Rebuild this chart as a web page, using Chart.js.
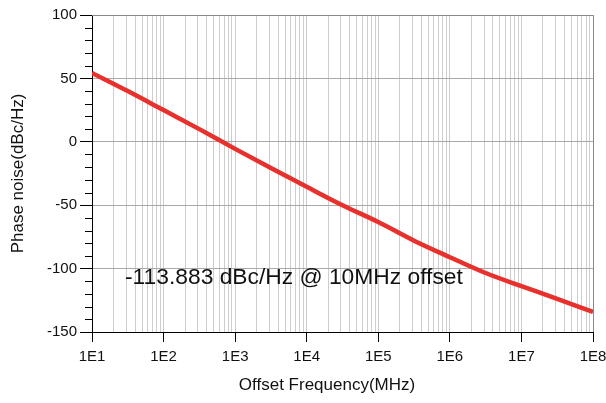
<!DOCTYPE html>
<html>
<head>
<meta charset="utf-8">
<script src="https://cdn.jsdelivr.net/npm/chart.js@4.4.1/dist/chart.umd.min.js"></script>
<style>
  html, body { margin: 0; padding: 0; background: #fff; }
  #wrap { width: 606px; height: 403px; }
</style>
</head>
<body>
<div id="wrap"><canvas id="chart1" width="606" height="403"></canvas></div>
<script>
// offset frequency points (decades and half decades)
var freqs = [1e1, 3.16e1, 1e2, 3.16e2, 1e3, 3.16e3, 1e4, 3.16e4, 1e5, 3.16e5, 1e6, 3.16e6, 1e7, 3.16e7, 1e8];
// phase noise, dBc/Hz
var noise = [54.3, 40, 25, 10, -5.6, -20.7, -35.5, -50, -63.3, -78, -91, -103.5, -113.883, -123.8, -134.2];
var yMajor = [-150, -100, -50, 0, 50, 100];
var noteText = '-113.883 dBc/Hz @ 10MHz offset';

var FONT = '"Liberation Sans", Arial, sans-serif';

// extra drawing: frame, minor y ticks, axis titles and the note
const extras = {
  id: 'extras',
  afterDraw(chart) {
    const ctx = chart.ctx;
    const a = chart.chartArea;
    const y = chart.scales.y;
    const x = chart.scales.x;
    const right = Math.round(x.getPixelForValue(1e8)) + 0.5;
    ctx.save();
    // top / right frame
    ctx.strokeStyle = '#8a8a8a';
    ctx.lineWidth = 1;
    ctx.beginPath();
    ctx.moveTo(a.left, a.top + 0.5);
    ctx.lineTo(right, a.top + 0.5);
    ctx.lineTo(right, a.bottom);
    ctx.stroke();
    // short ticks every 10 on y
    ctx.strokeStyle = '#000';
    ctx.beginPath();
    for (var v = -150; v <= 100; v += 10) {
      if (yMajor.indexOf(v) >= 0) continue;
      var py = Math.round(y.getPixelForValue(v)) + 0.5;
      ctx.moveTo(a.left - 7, py);
      ctx.lineTo(a.left, py);
    }
    ctx.stroke();
    // axis titles
    ctx.fillStyle = '#111';
    ctx.font = '17px ' + FONT;
    ctx.textAlign = 'center';
    ctx.textBaseline = 'middle';
    ctx.fillText('Offset Frequency(MHz)', 327, 385);
    ctx.save();
    ctx.translate(18, (a.top + a.bottom) / 2);
    ctx.rotate(-Math.PI / 2);
    ctx.fillText('Phase noise(dBc/Hz)', 0, 0);
    ctx.restore();
    // note
    ctx.font = '22.8px ' + FONT;
    ctx.textAlign = 'left';
    ctx.textBaseline = 'alphabetic';
    ctx.fillText(noteText, a.left + 33, a.top + 269);
    ctx.restore();
  }
};

function isDecade(v) {
  var e = Math.log10(v);
  return Math.abs(e - Math.round(e)) < 1e-9;
}

const chart1Context = document.getElementById('chart1').getContext('2d');
new Chart(chart1Context, {
  type: 'line',
  data: {
    datasets: [{
      data: freqs.map(function(f, i) { return {x: f, y: noise[i]}; }),
      borderColor: '#e8302c',
      borderWidth: 4.5,
      pointRadius: 0,
      fill: false,
      cubicInterpolationMode: 'monotone'
    }]
  },
  options: {
    responsive: false,
    animation: false,
    events: [],
    layout: { autoPadding: false, padding: { top: 15, right: 13, left: 0, bottom: 0 } },
    plugins: { legend: { display: false }, tooltip: { enabled: false } },
    scales: {
      x: {
        type: 'logarithmic',
        min: 1e1,
        max: 1e8,
        afterBuildTicks: function(scale) {
          var t = [];
          for (var e = 1; e < 8; e++) {
            for (var m = 1; m < 10; m++) t.push({ value: m * Math.pow(10, e), major: m === 1 });
          }
          t.push({ value: 1e8, major: true });
          scale.ticks = t;
        },
        afterFit: function(scale) {
          scale.height = 71;
          // let the end labels hang over the padding
          scale.paddingLeft = 0;
          scale.paddingRight = 0;
        },
        border: { color: '#000', width: 1 },
        grid: {
          color: '#cdcdcd',
          tickLength: 10,
          tickColor: function(c) { return c.tick && isDecade(c.tick.value) ? '#000' : 'rgba(0,0,0,0)'; }
        },
        ticks: {
          autoSkip: false,
          maxRotation: 0,
          padding: 6,
          color: '#111',
          font: { family: FONT, size: 15 },
          callback: function(v) { return isDecade(v) ? '1E' + Math.round(Math.log10(v)) : ''; }
        }
      },
      y: {
        min: -150,
        max: 100,
        afterFit: function(scale) { scale.width = 92; },
        border: { color: '#000', width: 1 },
        grid: {
          color: function(c) {
            var v = c.tick ? c.tick.value : null;
            return (v !== null && v % 50 === 0 && v > -150 && v < 100) ? '#a9a9a9' : 'rgba(0,0,0,0)';
          },
          tickLength: 12,
          tickColor: function(c) { return c.tick && c.tick.value % 50 === 0 ? '#000' : 'rgba(0,0,0,0)'; }
        },
        ticks: {
          stepSize: 10,
          autoSkip: false,
          padding: 3,
          color: '#111',
          font: { family: FONT, size: 15 },
          callback: function(v) { return v % 50 === 0 ? v : ''; }
        }
      }
    }
  },
  plugins: [extras]
});
</script>
</body>
</html>
